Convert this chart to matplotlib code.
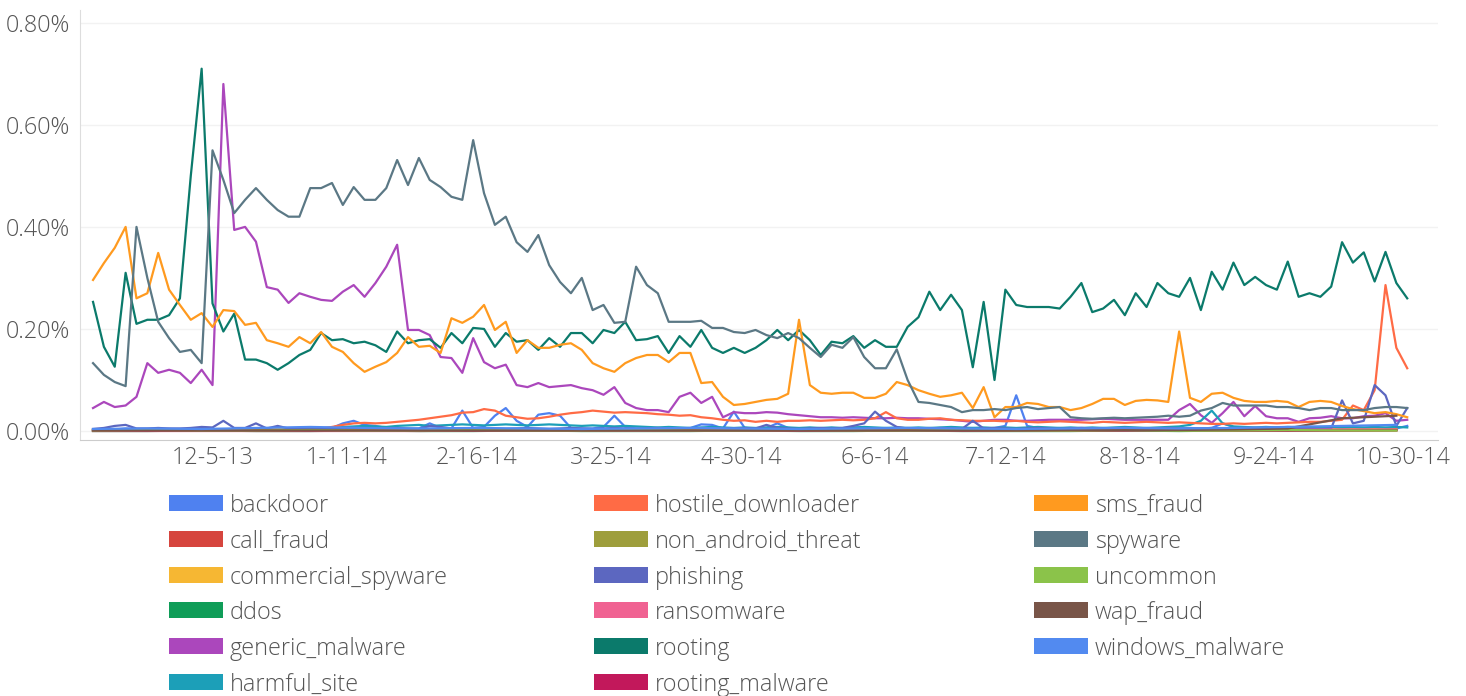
import numpy as np
import matplotlib
matplotlib.use("Agg")
import matplotlib.pyplot as plt
from matplotlib.patches import Rectangle

# daily share of scanned installs, in percent; one reading every 3 days from 2013-11-02
start = np.datetime64('2013-11-02')
days = np.arange(0, 364, 3)
days_sparse = np.arange(0, 361, 15)

tick_dates = ['2013-12-05', '2014-01-11', '2014-02-16', '2014-03-25', '2014-04-30',
              '2014-06-06', '2014-07-12', '2014-08-18', '2014-09-24', '2014-10-30']
tick_labels = ['12-5-13', '1-11-14', '2-16-14', '3-25-14', '4-30-14',
               '6-6-14', '7-12-14', '8-18-14', '9-24-14', '10-30-14']

rooting = [
    0.253, 0.165, 0.126, 0.310, 0.210, 0.218, 0.218, 0.227, 0.260, 0.500,
    0.710, 0.250, 0.195, 0.230, 0.140, 0.140, 0.133, 0.120, 0.133, 0.149,
    0.159, 0.192, 0.178, 0.180, 0.172, 0.175, 0.168, 0.155, 0.195, 0.172,
    0.178, 0.180, 0.163, 0.192, 0.172, 0.202, 0.200, 0.165, 0.192, 0.175,
    0.178, 0.159, 0.182, 0.165, 0.192, 0.192, 0.172, 0.198, 0.192, 0.214,
    0.178, 0.180, 0.186, 0.153, 0.186, 0.165, 0.198, 0.163, 0.153, 0.163,
    0.153, 0.163, 0.178, 0.198, 0.178, 0.198, 0.178, 0.149, 0.175, 0.172,
    0.186, 0.163, 0.178, 0.165, 0.165, 0.204, 0.223, 0.273, 0.237, 0.267,
    0.237, 0.125, 0.253, 0.100, 0.277, 0.247, 0.243, 0.243, 0.243, 0.240,
    0.263, 0.290, 0.233, 0.240, 0.257, 0.227, 0.270, 0.243, 0.290, 0.270,
    0.263, 0.300, 0.237, 0.312, 0.277, 0.330, 0.286, 0.302, 0.286, 0.277,
    0.332, 0.263, 0.270, 0.263, 0.283, 0.370, 0.330, 0.350, 0.293, 0.351,
    0.290, 0.260]

spyware = [
    0.133, 0.110, 0.096, 0.088, 0.400, 0.300, 0.214, 0.182, 0.155, 0.159,
    0.133, 0.550, 0.492, 0.427, 0.453, 0.476, 0.453, 0.433, 0.420, 0.420,
    0.476, 0.476, 0.486, 0.443, 0.478, 0.453, 0.453, 0.476, 0.531, 0.482,
    0.535, 0.492, 0.478, 0.459, 0.453, 0.570, 0.466, 0.404, 0.420, 0.370,
    0.351, 0.384, 0.325, 0.292, 0.270, 0.300, 0.237, 0.247, 0.212, 0.214,
    0.322, 0.286, 0.270, 0.214, 0.214, 0.214, 0.216, 0.202, 0.202, 0.194,
    0.192, 0.198, 0.188, 0.182, 0.192, 0.182, 0.163, 0.145, 0.169, 0.163,
    0.184, 0.145, 0.123, 0.123, 0.160, 0.100, 0.057, 0.055, 0.051, 0.047,
    0.037, 0.041, 0.041, 0.043, 0.041, 0.045, 0.047, 0.043, 0.045, 0.047,
    0.027, 0.025, 0.024, 0.025, 0.026, 0.025, 0.026, 0.027, 0.028, 0.030,
    0.028, 0.030, 0.040, 0.045, 0.055, 0.050, 0.050, 0.050, 0.050, 0.047,
    0.047, 0.045, 0.041, 0.045, 0.045, 0.041, 0.041, 0.041, 0.045, 0.047,
    0.047, 0.045]

sms_fraud = [
    0.296, 0.329, 0.359, 0.400, 0.260, 0.270, 0.349, 0.277, 0.247, 0.218,
    0.231, 0.204, 0.237, 0.235, 0.208, 0.212, 0.178, 0.172, 0.165, 0.184,
    0.172, 0.194, 0.165, 0.155, 0.133, 0.116, 0.126, 0.135, 0.153, 0.184,
    0.165, 0.167, 0.153, 0.221, 0.212, 0.224, 0.247, 0.198, 0.214, 0.153,
    0.178, 0.163, 0.163, 0.169, 0.172, 0.159, 0.133, 0.123, 0.116, 0.133,
    0.143, 0.149, 0.149, 0.135, 0.153, 0.153, 0.094, 0.096, 0.067, 0.051,
    0.053, 0.057, 0.061, 0.063, 0.073, 0.218, 0.090, 0.075, 0.073, 0.075,
    0.075, 0.065, 0.065, 0.073, 0.096, 0.090, 0.080, 0.073, 0.067, 0.070,
    0.075, 0.045, 0.086, 0.027, 0.047, 0.047, 0.055, 0.053, 0.047, 0.047,
    0.041, 0.045, 0.053, 0.063, 0.063, 0.051, 0.059, 0.061, 0.060, 0.057,
    0.195, 0.065, 0.057, 0.073, 0.075, 0.065, 0.059, 0.057, 0.057, 0.059,
    0.057, 0.047, 0.057, 0.059, 0.057, 0.049, 0.043, 0.039, 0.035, 0.037,
    0.033, 0.027]

generic_malware = [
    0.045, 0.057, 0.047, 0.050, 0.067, 0.133, 0.114, 0.120, 0.114, 0.094,
    0.120, 0.090, 0.680, 0.394, 0.400, 0.371, 0.282, 0.277, 0.251, 0.270,
    0.263, 0.257, 0.255, 0.273, 0.286, 0.263, 0.290, 0.322, 0.365, 0.198,
    0.198, 0.188, 0.145, 0.143, 0.114, 0.182, 0.135, 0.123, 0.130, 0.090,
    0.086, 0.094, 0.086, 0.088, 0.090, 0.084, 0.080, 0.071, 0.086, 0.055,
    0.045, 0.041, 0.041, 0.037, 0.067, 0.075, 0.055, 0.067, 0.027, 0.037,
    0.035, 0.035, 0.037, 0.036, 0.033, 0.031, 0.029, 0.027, 0.027, 0.026,
    0.027, 0.026, 0.025, 0.025, 0.026, 0.025, 0.025, 0.024, 0.023, 0.022,
    0.020, 0.018, 0.020, 0.022, 0.022, 0.020, 0.020, 0.021, 0.022, 0.022,
    0.022, 0.022, 0.023, 0.024, 0.023, 0.022, 0.022, 0.022, 0.022, 0.022,
    0.041, 0.053, 0.031, 0.016, 0.035, 0.057, 0.029, 0.049, 0.029, 0.025,
    0.025, 0.018, 0.025, 0.026, 0.029, 0.025, 0.025, 0.029, 0.030, 0.035,
    0.020, 0.022]

hostile_downloader = [
    0.002, 0.002, 0.003, 0.002, 0.002, 0.003, 0.002, 0.002, 0.003, 0.002,
    0.003, 0.002, 0.002, 0.003, 0.002, 0.002, 0.003, 0.002, 0.002, 0.003,
    0.003, 0.005, 0.008, 0.012, 0.015, 0.016, 0.015, 0.016, 0.018, 0.020,
    0.022, 0.025, 0.028, 0.031, 0.036, 0.037, 0.043, 0.040, 0.030, 0.027,
    0.024, 0.025, 0.028, 0.032, 0.035, 0.037, 0.040, 0.038, 0.036, 0.037,
    0.036, 0.035, 0.033, 0.032, 0.030, 0.031, 0.027, 0.025, 0.022, 0.020,
    0.021, 0.018, 0.020, 0.018, 0.020, 0.020, 0.021, 0.020, 0.021, 0.022,
    0.021, 0.022, 0.025, 0.037, 0.025, 0.022, 0.022, 0.024, 0.025, 0.022,
    0.021, 0.020, 0.020, 0.020, 0.019, 0.020, 0.018, 0.017, 0.018, 0.019,
    0.018, 0.017, 0.016, 0.018, 0.017, 0.016, 0.017, 0.018, 0.017, 0.016,
    0.017, 0.016, 0.015, 0.014, 0.014, 0.015, 0.014, 0.015, 0.016, 0.015,
    0.016, 0.017, 0.018, 0.018, 0.020, 0.022, 0.050, 0.041, 0.080, 0.286,
    0.163, 0.123]

backdoor = [
    0.003, 0.004, 0.003, 0.005, 0.004, 0.003, 0.003, 0.004, 0.003, 0.004,
    0.005, 0.004, 0.003, 0.004, 0.003, 0.003, 0.004, 0.003, 0.003, 0.004,
    0.004, 0.005, 0.006, 0.015, 0.020, 0.012, 0.010, 0.006, 0.005, 0.004,
    0.005, 0.015, 0.006, 0.005, 0.040, 0.006, 0.008, 0.030, 0.045, 0.020,
    0.008, 0.032, 0.035, 0.030, 0.006, 0.005, 0.005, 0.008, 0.030, 0.008,
    0.005, 0.005, 0.006, 0.005, 0.005, 0.006, 0.013, 0.012, 0.005, 0.038,
    0.006, 0.005, 0.006, 0.015, 0.006, 0.005, 0.006, 0.005, 0.006, 0.005,
    0.006, 0.006, 0.005, 0.006, 0.005, 0.006, 0.005, 0.006, 0.005, 0.006,
    0.005, 0.006, 0.005, 0.006, 0.010, 0.070, 0.010, 0.006, 0.005, 0.006,
    0.005, 0.006, 0.005, 0.006, 0.005, 0.006, 0.005, 0.006, 0.005, 0.006,
    0.005, 0.006, 0.005, 0.006, 0.015, 0.008, 0.005, 0.006, 0.005, 0.006,
    0.005, 0.006, 0.005, 0.006, 0.005, 0.006, 0.005, 0.006, 0.005, 0.006,
    0.005, 0.010]

phishing = [
    0.004, 0.006, 0.010, 0.012, 0.005, 0.005, 0.006, 0.005, 0.005, 0.006,
    0.008, 0.007, 0.020, 0.006, 0.006, 0.015, 0.005, 0.010, 0.005, 0.006,
    0.005, 0.005, 0.004, 0.005, 0.006, 0.005, 0.004, 0.005, 0.006, 0.005,
    0.004, 0.010, 0.008, 0.005, 0.004, 0.005, 0.006, 0.005, 0.004, 0.005,
    0.006, 0.005, 0.004, 0.005, 0.006, 0.005, 0.004, 0.005, 0.006, 0.005,
    0.004, 0.005, 0.006, 0.005, 0.004, 0.005, 0.006, 0.005, 0.004, 0.005,
    0.006, 0.005, 0.012, 0.006, 0.005, 0.004, 0.005, 0.006, 0.005, 0.006,
    0.010, 0.015, 0.038, 0.020, 0.008, 0.005, 0.004, 0.005, 0.006, 0.005,
    0.004, 0.020, 0.005, 0.006, 0.005, 0.004, 0.005, 0.006, 0.005, 0.004,
    0.005, 0.006, 0.005, 0.004, 0.005, 0.006, 0.005, 0.004, 0.005, 0.006,
    0.005, 0.004, 0.005, 0.006, 0.005, 0.004, 0.005, 0.006, 0.005, 0.004,
    0.005, 0.006, 0.005, 0.004, 0.005, 0.060, 0.015, 0.020, 0.090, 0.070,
    0.010, 0.045]

harmful_site = [
    0.002, 0.002, 0.003, 0.002, 0.002, 0.003, 0.002, 0.003, 0.002, 0.002,
    0.003, 0.002, 0.003, 0.002, 0.002, 0.003, 0.002, 0.002, 0.003, 0.003,
    0.004, 0.005, 0.006, 0.008, 0.009, 0.010, 0.009, 0.008, 0.010, 0.011,
    0.012, 0.010, 0.011, 0.012, 0.013, 0.012, 0.011, 0.012, 0.013, 0.012,
    0.011, 0.012, 0.013, 0.012, 0.011, 0.010, 0.011, 0.010, 0.009, 0.010,
    0.009, 0.008, 0.007, 0.008, 0.007, 0.006, 0.007, 0.008, 0.007, 0.006,
    0.007, 0.006, 0.007, 0.008, 0.007, 0.006, 0.007, 0.006, 0.007, 0.006,
    0.007, 0.008, 0.007, 0.006, 0.007, 0.006, 0.007, 0.006, 0.007, 0.008,
    0.007, 0.006, 0.007, 0.006, 0.007, 0.006, 0.007, 0.008, 0.007, 0.006,
    0.007, 0.006, 0.007, 0.006, 0.007, 0.008, 0.007, 0.006, 0.007, 0.008,
    0.009, 0.012, 0.020, 0.040, 0.015, 0.009, 0.008, 0.007, 0.008, 0.007,
    0.008, 0.007, 0.008, 0.007, 0.008, 0.007, 0.008, 0.007, 0.008, 0.007,
    0.008, 0.007]

# near-zero categories, one reading every 15 days
windows_malware = [0.004, 0.005, 0.004, 0.006, 0.008, 0.006, 0.005, 0.006, 0.005, 0.004,
                   0.005, 0.006, 0.005, 0.004, 0.005, 0.006, 0.005, 0.004, 0.005, 0.006,
                   0.005, 0.006, 0.008, 0.010, 0.012]
commercial_spyware = [0.003, 0.002, 0.003, 0.004, 0.003, 0.002, 0.003, 0.002, 0.002, 0.003,
                      0.002, 0.003, 0.002, 0.002, 0.003, 0.002, 0.003, 0.002, 0.003, 0.002,
                      0.003, 0.004, 0.003, 0.005, 0.006]
wap_fraud = [0.001, 0.001, 0.001, 0.001, 0.001, 0.001, 0.001, 0.001, 0.001, 0.001,
             0.001, 0.001, 0.001, 0.001, 0.001, 0.001, 0.001, 0.001, 0.002, 0.002,
             0.002, 0.003, 0.005, 0.025, 0.030]
call_fraud = [0.001, 0.001, 0.002, 0.001, 0.001, 0.002, 0.001, 0.001, 0.002, 0.001,
              0.001, 0.001, 0.002, 0.001, 0.001, 0.002, 0.001, 0.001, 0.001, 0.002,
              0.001, 0.001, 0.002, 0.001, 0.001]
ddos = [0.000, 0.000, 0.001, 0.000, 0.000, 0.001, 0.000, 0.000, 0.001, 0.000,
        0.000, 0.000, 0.001, 0.000, 0.000, 0.001, 0.000, 0.000, 0.000, 0.001,
        0.000, 0.001, 0.001, 0.002, 0.002]
non_android_threat = [0.001, 0.001, 0.001, 0.002, 0.001, 0.001, 0.001, 0.002, 0.001, 0.001,
                      0.001, 0.002, 0.001, 0.001, 0.001, 0.002, 0.001, 0.001, 0.001, 0.002,
                      0.001, 0.001, 0.001, 0.002, 0.002]
ransomware = [0.000, 0.000, 0.000, 0.000, 0.000, 0.000, 0.000, 0.001, 0.001, 0.001,
              0.001, 0.001, 0.001, 0.001, 0.001, 0.001, 0.001, 0.001, 0.002, 0.002,
              0.002, 0.002, 0.002, 0.003, 0.003]
uncommon = [0.001, 0.002, 0.001, 0.001, 0.002, 0.001, 0.001, 0.002, 0.001, 0.001,
            0.002, 0.001, 0.001, 0.002, 0.001, 0.001, 0.002, 0.001, 0.001, 0.002,
            0.001, 0.001, 0.002, 0.001, 0.001]
rooting_malware = [0.001, 0.001, 0.001, 0.001, 0.001, 0.002, 0.001, 0.001, 0.001, 0.001,
                   0.002, 0.001, 0.001, 0.001, 0.001, 0.002, 0.001, 0.001, 0.001, 0.001,
                   0.002, 0.001, 0.001, 0.001, 0.002]

series = [
    ('backdoor', backdoor, '#4f81f0'),
    ('call_fraud', call_fraud, '#d6453e'),
    ('commercial_spyware', commercial_spyware, '#f6b733'),
    ('ddos', ddos, '#0f9d58'),
    ('generic_malware', generic_malware, '#ab47bc'),
    ('harmful_site', harmful_site, '#1c9fb8'),
    ('hostile_downloader', hostile_downloader, '#ff6b45'),
    ('non_android_threat', non_android_threat, '#9e9e3c'),
    ('phishing', phishing, '#5c67c0'),
    ('ransomware', ransomware, '#f06292'),
    ('rooting', rooting, '#0b7a6b'),
    ('rooting_malware', rooting_malware, '#c2185b'),
    ('sms_fraud', sms_fraud, '#ff9a1f'),
    ('spyware', spyware, '#5b7885'),
    ('uncommon', uncommon, '#8bc34a'),
    ('wap_fraud', wap_fraud, '#795548'),
    ('windows_malware', windows_malware, '#528af0'),
]

plt.rcParams['font.family'] = ['Open Sans', 'DejaVu Sans']
text_color = '#555555'

fig = plt.figure(figsize=(14.66, 6.96), dpi=100)
ax = fig.add_axes([80 / 1466, 1 - 440 / 696, 1358 / 1466, 430 / 696])

for i, (name, vals, color) in enumerate(series):
    x = days if len(vals) == len(days) else days_sparse
    ax.plot(x, vals, color=color, lw=1.6, zorder=2 + i, solid_joinstyle='round')

ax.set_xlim(-3.6, 371.5)
ax.set_ylim(-0.0176, 0.825)

tick_pos = [(np.datetime64(d) - start).astype(int) for d in tick_dates]
ax.set_xticks(tick_pos)
ax.set_xticklabels(tick_labels)
ax.set_yticks([0, 0.2, 0.4, 0.6, 0.8])
ax.set_yticklabels(['%.2f%%' % v for v in [0, 0.2, 0.4, 0.6, 0.8]])
ax.tick_params(length=0, labelsize=16.8, labelcolor=text_color)
ax.tick_params(axis='y', pad=7)
ax.tick_params(axis='x', pad=4)
for lab in ax.get_xticklabels() + ax.get_yticklabels():
    lab.set_fontweight('light')

ax.grid(axis='y', color='#f2f2f2', lw=1)
ax.set_axisbelow(True)
for s in ['top', 'right']:
    ax.spines[s].set_visible(False)
ax.spines['left'].set_color('#dddddd')
ax.spines['bottom'].set_color('#cccccc')

# legend, three columns of six rows
lax = fig.add_axes([0, 0, 1, 1])
lax.set_xlim(0, 1466)
lax.set_ylim(696, 0)
lax.axis('off')
col_x = [169, 594, 1034]
for i, (name, vals, color) in enumerate(series):
    cx = col_x[i // 6]
    cy = 503 + 35.8 * (i % 6)
    lax.add_patch(Rectangle((cx, cy - 8), 54, 16, color=color, lw=0))
    lax.text(cx + 61, cy + 9, name, fontsize=16.8, fontweight='light',
             color=text_color, va='baseline', ha='left')

fig.savefig('out.png', dpi=100)
